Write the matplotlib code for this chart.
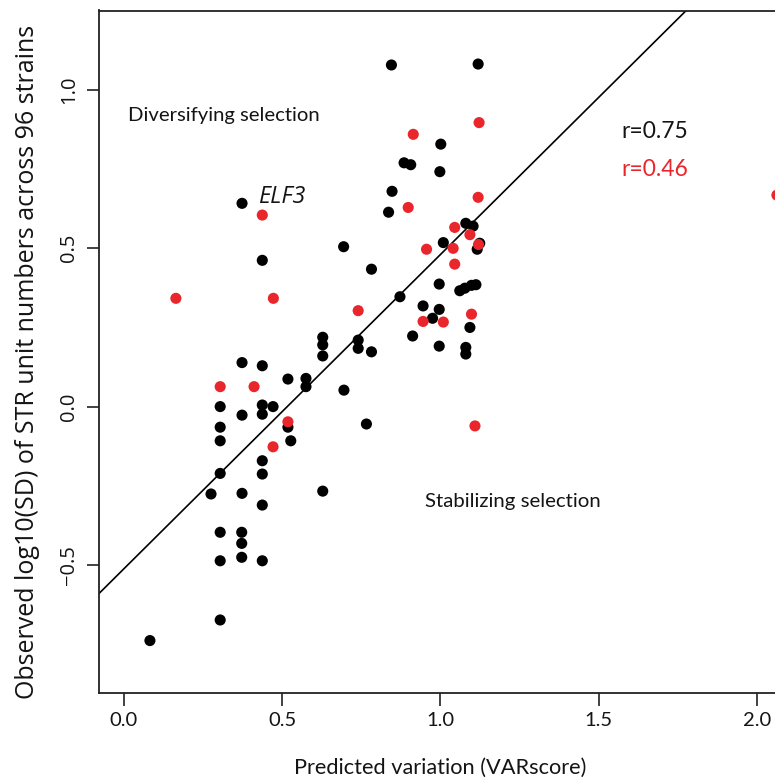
import matplotlib
matplotlib.use("Agg")
import matplotlib.pyplot as plt
import logging
logging.getLogger('matplotlib.font_manager').setLevel(logging.ERROR)

black_x = [0.373, 0.437, 0.694, 0.845, 1.119, 1.001, 0.885, 0.906, 0.998, 0.847,
           0.836, 1.080, 1.103, 1.009, 1.124, 1.116,
           0.628, 0.628, 0.628, 0.373, 0.437, 0.518, 0.575, 0.575, 0.695,
           0.304, 0.373, 0.437, 0.437, 0.471, 0.518, 0.527, 0.304, 0.304,
           0.437, 0.437, 0.304, 0.275, 0.373, 0.628, 0.437,
           0.304, 0.372, 0.372, 0.372, 0.304, 0.437, 0.304, 0.082,
           0.782, 0.996, 1.061, 1.077, 1.098, 1.112, 0.872, 0.945, 0.996, 0.975,
           1.093, 0.912, 0.740, 0.740, 0.782, 0.996, 1.080, 1.080, 0.766]
black_y = [0.642, 0.462, 0.505, 1.079, 1.082, 0.829, 0.770, 0.764, 0.742, 0.680,
           0.614, 0.579, 0.570, 0.518, 0.516, 0.497,
           0.219, 0.195, 0.160, 0.139, 0.129, 0.087, 0.089, 0.063, 0.052,
           0.000, -0.027, 0.005, -0.024, 0.000, -0.065, -0.108, -0.065, -0.108,
           -0.171, -0.213, -0.211, -0.276, -0.274, -0.267, -0.311,
           -0.397, -0.397, -0.432, -0.476, -0.487, -0.487, -0.674, -0.739,
           0.434, 0.387, 0.366, 0.374, 0.383, 0.385, 0.347, 0.318, 0.307, 0.279,
           0.250, 0.223, 0.210, 0.184, 0.173, 0.191, 0.187, 0.166, -0.055]

red_x = [0.437, 1.122, 0.914, 0.898, 1.119, 1.045, 1.093, 1.040, 0.956, 1.120,
         1.045, 0.164, 0.472, 0.304, 0.411, 0.518, 0.471, 0.740, 0.945, 1.009,
         1.098, 1.109, 2.063]
red_y = [0.605, 0.897, 0.860, 0.629, 0.661, 0.566, 0.543, 0.500, 0.497, 0.512,
         0.450, 0.342, 0.342, 0.063, 0.063, -0.048, -0.127, 0.303, 0.269, 0.267,
         0.292, -0.061, 0.668]

fit_intercept = -0.512
fit_slope = 0.9925

x_ticks = [0.0, 0.5, 1.0, 1.5, 2.0]
y_ticks = [-0.5, 0.0, 0.5, 1.0]

narrow = ['Lato', 'DejaVu Sans']
sans = ['Open Sans', 'DejaVu Sans']
TXT = '#141414'
RED = '#e8262b'

W, H = 775, 782
fig = plt.figure(figsize=(W / 100, H / 100), dpi=100)
left_px, right_px, top_px, bottom_px = 98.5, 786.0, 10.5, 693.0
ax = fig.add_axes([left_px / W, (H - bottom_px) / H,
                   (right_px - left_px) / W, (bottom_px - top_px) / H])

ax.set_xlim(-0.0805, 2.0917)
ax.set_ylim(-0.9046, 1.2511)

ax.scatter(black_x, black_y, s=64, color='black', edgecolors='none', zorder=3)
ax.scatter(red_x, red_y, s=64, color=RED, edgecolors='none', zorder=4)
ax.axline((0, fit_intercept), slope=fit_slope, color='black', lw=1.2, zorder=2)

for s in ax.spines.values():
    s.set_linewidth(1.3)
    s.set_color('#222222')

ax.set_xticks(x_ticks)
ax.set_xticklabels([f"{v:.1f}" for v in x_ticks])
ax.set_yticks(y_ticks)
ax.set_yticklabels(["\u22120.5", "0.0", "0.5", "1.0"], rotation=90, va='center')
ax.tick_params(axis='both', length=9, width=1.3, color='#333333', labelsize=14.5,
               labelcolor=TXT)
ax.tick_params(axis='x', pad=5)
ax.tick_params(axis='y', pad=5)
for lab in ax.get_xticklabels():
    lab.set_family(narrow)
for lab in ax.get_yticklabels():
    lab.set_family(sans)

ax.set_xlabel("Predicted variation (VARscore)", family=narrow, fontsize=15.7,
              color=TXT)
ax.set_ylabel("Observed log10(SD) of STR unit numbers across 96 strains",
              family=sans, fontsize=18, color=TXT)

ax.text(128.3 / W, 1 - 115 / H, "Diversifying selection", transform=fig.transFigure,
        family=narrow, fontsize=14.6, ha='left', va='center', color=TXT)
ax.text(425 / W, 1 - 501.7 / H, "Stabilizing selection", transform=fig.transFigure,
        family=narrow, fontsize=14.7, ha='left', va='center', color=TXT)
ax.text(258.3 / W, 1 - 196.7 / H, "ELF3", transform=fig.transFigure,
        family=sans, style='italic', fontsize=16.8, ha='left', va='center',
        color=TXT)
ax.text(621.7 / W, 1 - 131.7 / H, "r=0.75", transform=fig.transFigure,
        family=narrow, fontsize=16.5, ha='left', va='center', color=TXT)
ax.text(621.7 / W, 1 - 170 / H, "r=0.46", transform=fig.transFigure,
        family=narrow, fontsize=16.5, ha='left', va='center', color=RED)

ax.xaxis.set_label_coords(440 / W, 1 - 768 / H, transform=fig.transFigure)
ax.xaxis.label.set_va('center')
ax.yaxis.set_label_coords(28 / W, 1 - 362 / H, transform=fig.transFigure)
ax.yaxis.label.set_va('center')

fig.savefig("out.png", dpi=100)
